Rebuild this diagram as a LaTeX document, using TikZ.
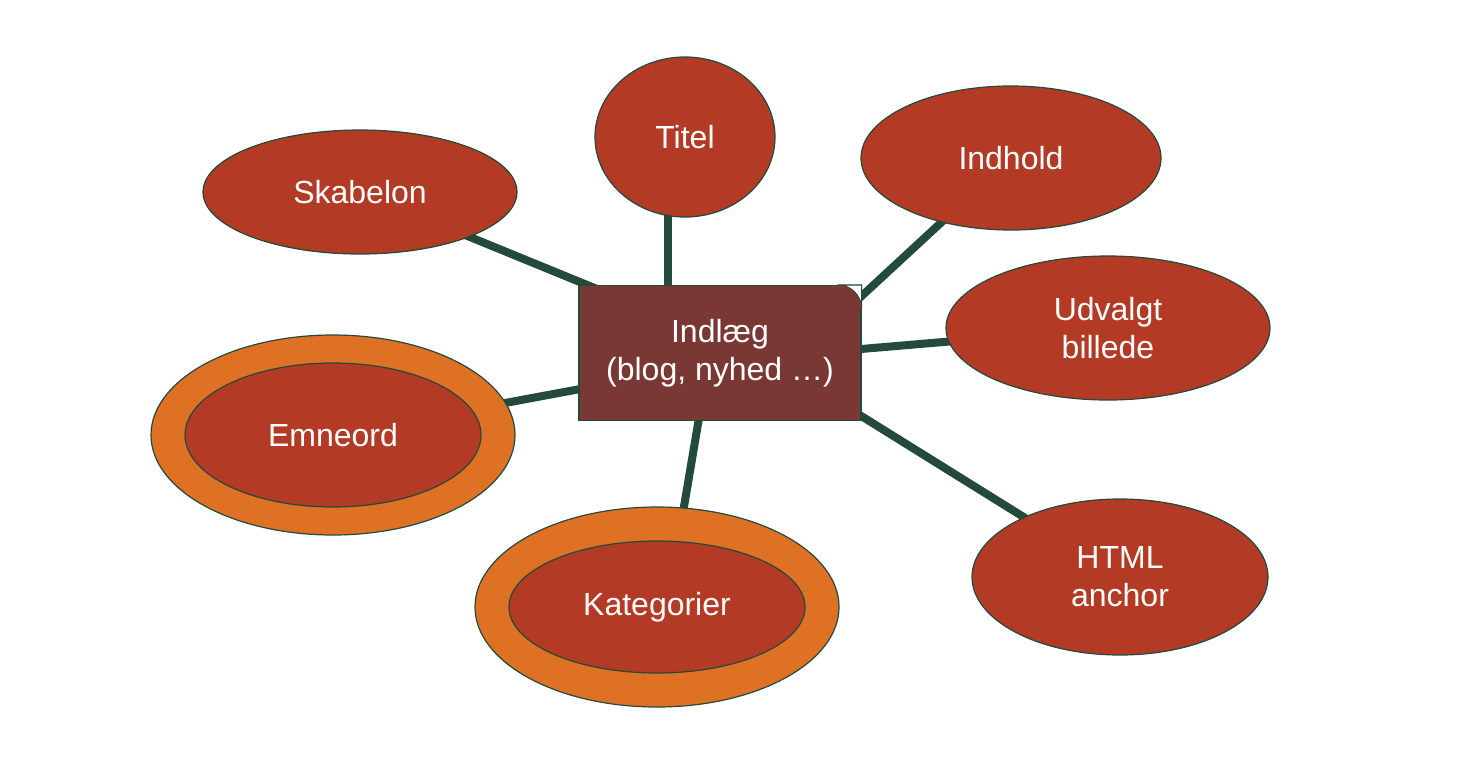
\documentclass[tikz,border=0pt]{standalone}
\usepackage{fontspec}
\setmainfont{Liberation Sans}
\usetikzlibrary{shapes.geometric,backgrounds}
\definecolor{rust}{HTML}{B33A25}
\definecolor{amber}{HTML}{DF7125}
\definecolor{wine}{HTML}{793833}
\definecolor{pine}{HTML}{234A3A}
\begin{document}
\begin{tikzpicture}[x=0.5pt,y=-0.5pt]
  \tikzset{Field/.style={%
      shape=ellipse,%
      draw=pine,%
      fill=rust,%
      line width=0.6pt,%
      inner sep=0pt,%
      text=white,%
      align=center,%
      font=\fontsize{16}{19}\selectfont,%
    },
    Ring/.style={%
      shape=ellipse,%
      draw=pine,%
      fill=amber,%
      line width=0.6pt,%
    },
    Link/.style={-,line width=4pt,draw=pine}}
  \useasboundingbox (0,0) rectangle (1458,756);

  \node[Ring, minimum width=364pt*0.5, minimum height=200pt*0.5] (emneringe) at (333,435) {};
  \node[Ring, minimum width=364pt*0.5, minimum height=200pt*0.5] (katring) at (657,607) {};

  \node[Field, minimum width=157pt, minimum height=62pt] (skabelon) at (360,192) {Skabelon};
  \node[Field, minimum width=90pt, minimum height=80pt] (titel) at (685,137) {Titel};
  \node[Field, minimum width=150pt, minimum height=72pt] (indhold) at (1011,158) {Indhold};
  \node[Field, minimum width=162pt, minimum height=72pt] (udvalgt) at (1108,328) {Udvalgt\\billede};
  \node[Field, minimum width=148pt, minimum height=78pt] (anchor) at (1120,577) {HTML\\anchor};
  \node[Field, minimum width=148pt, minimum height=66pt] (kategorier) at (657,607) {Kategorier};
  \node[Field, minimum width=148pt, minimum height=72pt] (emneord) at (333,435) {Emneord};

  \node[draw=pine, fill=wine, line width=0.6pt, minimum width=141pt, minimum height=67.5pt,
        rounded corners=0pt, text=white, align=center, font=\fontsize{16}{19}\selectfont]
        (indlaeg) at (720,353) {Indlæg\\(blog, nyhed …)};
  \fill[wine] ([xshift=-12pt]indlaeg.north east) -- (indlaeg.north east) -- ([yshift=-12pt]indlaeg.north east) -- cycle;
  \draw[pine, line width=0.6pt, fill=white] ([xshift=-12pt]indlaeg.north east) -- (indlaeg.north east) -- ([yshift=-12pt]indlaeg.north east) arc[start angle=0,end angle=90,radius=12pt] -- cycle;
  \fill[wine] ([yshift=-12pt]indlaeg.north east) arc[start angle=0,end angle=90,radius=12pt] -- ++(0,-12pt) -- cycle;

  \begin{scope}[on background layer]
    \draw[Link] ([shift={(-20pt,15pt)}]indlaeg.center) -- (skabelon.center);
    \draw[Link] ([xshift=-8.5pt]titel.center) -- ([xshift=-8.5pt]titel.center |- indlaeg.center);
    \draw[Link] ([xshift=40pt]indlaeg.center) -- (indhold.center);
    \draw[Link] ([yshift=-4pt]indlaeg.center) -- (udvalgt.center);
    \draw[Link] ([xshift=20pt]indlaeg.center) -- (anchor.center);
    \draw[Link] ([xshift=-5pt]indlaeg.center) -- ([xshift=5pt]kategorier.center);
    \draw[Link] ([yshift=-5pt]indlaeg.center) -- (emneord.center);
  \end{scope}
\end{tikzpicture}
\end{document}
